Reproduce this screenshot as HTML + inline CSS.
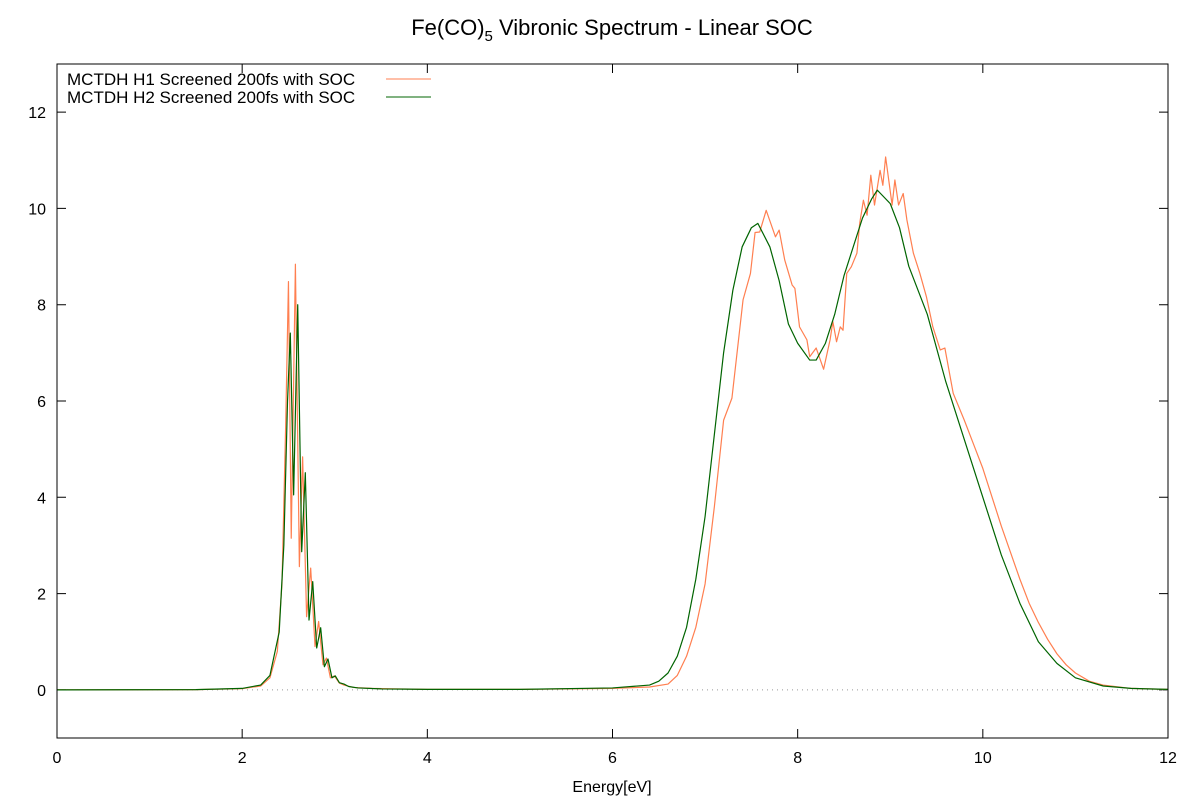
<!DOCTYPE html>
<html><head><meta charset="utf-8"><style>
body{margin:0;background:#fff}
svg{display:block;font-family:"Liberation Sans",sans-serif}
</style></head><body>
<svg id="chart" width="1200" height="800" viewBox="0 0 1200 800">
<rect width="1200" height="800" fill="#fff"/>
<text x="612" y="35" font-size="22" text-anchor="middle">Fe(CO)<tspan font-size="15" dy="6">5</tspan><tspan dy="-6"> Vibronic Spectrum - Linear SOC</tspan></text>
<g id="axes"></g>
<g id="series"></g>
<rect x="57" y="64" width="1111" height="674" fill="none" stroke="#000" stroke-width="1"/>
<text x="612" y="792" font-size="16" text-anchor="middle">Energy[eV]</text>
<g>
<text x="67" y="85" font-size="17">MCTDH H1 Screened 200fs with SOC</text>
<line x1="386" y1="79" x2="431" y2="79" stroke="#ff7f50" stroke-width="1"/>
<text x="67" y="103" font-size="17">MCTDH H2 Screened 200fs with SOC</text>
<line x1="386" y1="97" x2="431" y2="97" stroke="#006400" stroke-width="1"/>
</g>
</svg>
<script>
const xTicks=[0,2,4,6,8,10,12];
const yTicks=[0,2,4,6,8,10,12];
const h1E=[0,1.5,2.0,2.2,2.3,2.38,2.43,2.47,2.50,2.53,2.575,2.618,2.653,2.696,2.74,2.787,2.826,2.873,2.91,2.953,2.996,3.05,3.1,3.2,3.4,4,5,6,6.4,6.6,6.7,6.8,6.9,7.0,7.1,7.2,7.29,7.41,7.49,7.54,7.59,7.66,7.76,7.80,7.86,7.94,7.97,8.02,8.10,8.13,8.20,8.28,8.35,8.38,8.42,8.46,8.49,8.53,8.58,8.64,8.67,8.71,8.75,8.79,8.83,8.89,8.92,8.95,9.02,9.05,9.09,9.14,9.18,9.25,9.32,9.39,9.46,9.54,9.59,9.68,9.8,9.9,10.0,10.1,10.2,10.3,10.4,10.5,10.6,10.7,10.8,10.9,11.0,11.15,11.3,11.6,12];
const h1I=[0,0.004,0.025,0.08,0.25,0.8,2.2,5.5,8.48,3.15,8.84,2.56,4.84,1.52,2.53,0.9,1.42,0.52,0.66,0.25,0.29,0.14,0.1,0.05,0.03,0.01,0.01,0.03,0.06,0.12,0.3,0.7,1.3,2.2,3.8,5.6,6.06,8.1,8.65,9.5,9.51,9.96,9.41,9.55,8.93,8.41,8.34,7.54,7.27,6.92,7.1,6.66,7.27,7.65,7.23,7.54,7.47,8.65,8.79,9.07,9.69,10.17,9.86,10.69,10.07,10.79,10.48,11.07,10.07,10.59,10.07,10.31,9.76,9.07,8.65,8.17,7.54,7.06,7.1,6.16,5.6,5.1,4.6,4.0,3.4,2.85,2.3,1.8,1.4,1.05,0.75,0.52,0.35,0.18,0.1,0.03,0.01];
const h2E=[0,1.5,2.0,2.2,2.3,2.4,2.45,2.49,2.52,2.556,2.60,2.643,2.682,2.722,2.762,2.805,2.848,2.888,2.927,2.97,3.006,3.05,3.1,3.15,3.25,3.5,4,5,6,6.4,6.5,6.6,6.7,6.8,6.9,7.0,7.1,7.2,7.3,7.4,7.5,7.57,7.7,7.8,7.9,8.0,8.13,8.2,8.3,8.4,8.5,8.6,8.7,8.8,8.86,9.0,9.1,9.2,9.4,9.6,9.8,10.0,10.2,10.4,10.6,10.8,11.0,11.3,11.6,12];
const h2I=[0,0.005,0.03,0.1,0.3,1.2,3,6,7.41,4.05,8.0,2.87,4.51,1.45,2.25,0.87,1.29,0.48,0.64,0.25,0.29,0.15,0.12,0.07,0.04,0.02,0.01,0.01,0.04,0.1,0.18,0.35,0.7,1.3,2.3,3.6,5.3,7,8.3,9.2,9.6,9.69,9.2,8.5,7.6,7.2,6.85,6.85,7.2,7.8,8.6,9.2,9.8,10.2,10.38,10.1,9.6,8.8,7.8,6.4,5.2,4.0,2.8,1.8,1.0,0.55,0.25,0.08,0.03,0.01];

const NS="http://www.w3.org/2000/svg";
const X0=57,X1=1168,Y0=738,Y1=64,xmin=0,xmax=12,ymin=-1,ymax=13;
function sx(v){return X0+(v-xmin)/(xmax-xmin)*(X1-X0);}
function sy(v){return Y0-(v-ymin)/(ymax-ymin)*(Y0-Y1);}
function mk(tag,attrs,parent){const e=document.createElementNS(NS,tag);for(const k in attrs)e.setAttribute(k,attrs[k]);parent.appendChild(e);return e;}
const ax=document.getElementById('axes');
xTicks.forEach(t=>{
  const x=sx(t);
  const l=mk('path',{d:`M${x},${Y0}v-9M${x},${Y1}v9`,stroke:'#000','stroke-width':1},ax);
  
  
  const tx=mk('text',{x:x,y:763,'font-size':16,'text-anchor':'middle'},ax);
  tx.textContent=t;
  
  
});
yTicks.forEach(t=>{
  const y=sy(t);
  const l=mk('path',{d:`M${X0},${y}h9M${X1},${y}h-9`,stroke:'#000','stroke-width':1},ax);
  
  
  const tx=mk('text',{x:46,y:y+6,'font-size':16,'text-anchor':'end'},ax);
  tx.textContent=t;
  
  
});
const zl=mk('line',{x1:X0,x2:X1,y1:sy(0),y2:sy(0),stroke:'#999','stroke-width':1,'stroke-dasharray':'1,4'},ax);


const sg=document.getElementById('series');
function line(E,I,col,name){
  const pts=E.map((e,i)=>sx(e).toFixed(2)+','+sy(I[i]).toFixed(2)).join(' ');
  const p=mk('polyline',{points:pts,fill:'none',stroke:col,'stroke-width':1.2,'stroke-linejoin':'round'},sg);
  
  
}
line(h1E,h1I,'#ff7f50','series-h1');
line(h2E,h2I,'#006400','series-h2');
</script>
</body></html>
